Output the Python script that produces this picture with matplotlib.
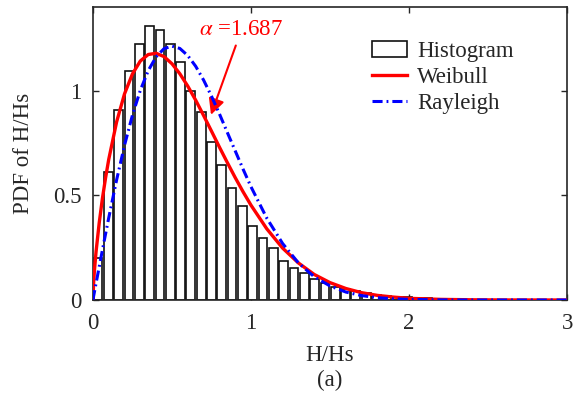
import numpy as np
import matplotlib
matplotlib.use("Agg")
import matplotlib.pyplot as plt

plt.rcParams['font.family'] = ['Liberation Serif', 'DejaVu Serif']
plt.rcParams['mathtext.fontset'] = 'stix'

# histogram of H/Hs: 46 bins over [0, 3]
bin_lo = 0.0
bin_hi = 3.0
hist_pdf = [0.200, 0.614, 0.906, 1.092, 1.225, 1.308, 1.292, 1.225, 1.137, 0.997,
            0.896, 0.757, 0.643, 0.534, 0.447, 0.356, 0.296, 0.247, 0.187, 0.152,
            0.131, 0.099, 0.080, 0.061, 0.053, 0.045, 0.032, 0.025, 0.020, 0.016,
            0.013, 0.010, 0.008, 0.006, 0.004, 0.003, 0.002, 0.0015, 0.001, 0.001,
            0.0, 0.0, 0.0, 0.0, 0.0, 0.0]

# fitted curves
curve_x = [0, 0.005, 0.01, 0.02, 0.04, 0.06, 0.08, 0.10, 0.15, 0.20, 0.25, 0.30,
           0.35, 0.40, 0.45, 0.50, 0.55, 0.60, 0.65, 0.70, 0.75, 0.80, 0.85, 0.90,
           0.95, 1.0, 1.1, 1.2, 1.3, 1.4, 1.5, 1.6, 1.7, 1.8, 1.9, 2.0, 2.2, 2.4,
           2.6, 2.8, 3.0]
weibull_y = [0, 0.089, 0.144, 0.231, 0.369, 0.484, 0.583, 0.671, 0.851, 0.985,
             1.080, 1.142, 1.173, 1.179, 1.163, 1.129, 1.081, 1.022, 0.955, 0.882,
             0.807, 0.731, 0.657, 0.585, 0.517, 0.453, 0.340, 0.248, 0.177, 0.122,
             0.083, 0.055, 0.035, 0.022, 0.014, 0.008, 0.003, 0.001, 0.0003, 0.0001, 0]
rayleigh_y = [0, 0.020, 0.040, 0.080, 0.159, 0.238, 0.315, 0.392, 0.574, 0.739,
              0.883, 1.002, 1.096, 1.162, 1.201, 1.213, 1.202, 1.168, 1.117, 1.051,
              0.974, 0.890, 0.801, 0.713, 0.625, 0.541, 0.391, 0.270, 0.177, 0.111,
              0.067, 0.038, 0.021, 0.011, 0.006, 0.003, 0.0006, 0.0001, 0, 0, 0]

alpha_txt = r'$\alpha$ =1.687'

edges = np.linspace(bin_lo, bin_hi, len(hist_pdf) + 1)
centers = (edges[:-1] + edges[1:]) / 2
bw = edges[1] - edges[0]

fs = 16.5
dark = '#262626'
fig = plt.figure(figsize=(5.77, 3.96), dpi=100)
ax = fig.add_axes([0.161, 0.2424, 0.822, 0.7399])

h_bar = ax.bar(centers, hist_pdf, width=bw * 0.85, color='white', edgecolor='#111111',
               linewidth=1.2, label='Histogram', zorder=2)
h_wb, = ax.plot(curve_x, weibull_y, color='#ff0000', lw=2.4, label='Weibull', zorder=3)
h_ry, = ax.plot(curve_x, rayleigh_y, color='#0000ff', lw=2.2,
                ls=(0, (3.3, 1.3, 0.6, 1.3)), label='Rayleigh', zorder=4)

ax.annotate(alpha_txt, xy=(0.747, 0.885), xytext=(0.94, 1.292), color='#ff0000',
            fontsize=fs, ha='center', va='center',
            arrowprops=dict(arrowstyle='-|>', color='#ff0000', lw=1.5,
                            mutation_scale=24, shrinkA=2, shrinkB=0))

ax.set_xlim(0, 3)
ax.set_ylim(0, 1.4)
ax.set_xticks([0, 1, 2, 3])
ax.set_yticks([0, 0.5, 1])
ax.set_yticklabels(['0', '0.5', '1'])
ax.tick_params(direction='in', top=True, right=True, length=4, width=1,
               colors=dark, labelsize=fs)
ax.tick_params(axis='x', pad=9)
ax.tick_params(axis='y', pad=8)
for s in ax.spines.values():
    s.set_linewidth(1.2)
    s.set_color(dark)

ax.set_xlabel('H/Hs', fontsize=fs, color=dark, va='center')
ax.xaxis.set_label_coords(0.5, -0.191)
ax.set_ylabel('PDF of H/Hs', fontsize=fs, color=dark, va='center')
ax.yaxis.set_label_coords(-0.1456, 0.5)
fig.text(0.572, 1 - 380 / 396, '(a)', fontsize=fs, color=dark, ha='center', va='center')

ax.legend([h_bar, h_wb, h_ry], ['Histogram', 'Weibull', 'Rayleigh'],
          loc='upper left', bbox_to_anchor=(0.589, 0.885), frameon=False,
          fontsize=fs, borderpad=0, borderaxespad=0, handlelength=1.5,
          handletextpad=0.45, labelspacing=0.22, labelcolor=dark)

fig.savefig('out.png', dpi=100)
